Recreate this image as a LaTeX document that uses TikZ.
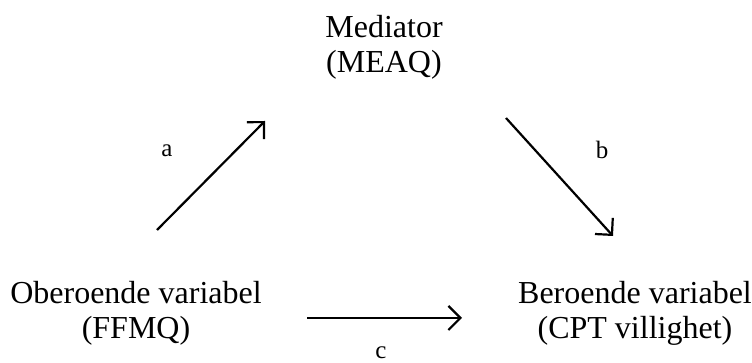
\documentclass[tikz,border=0pt]{standalone}
\usepackage{fontspec}
\setmainfont{Liberation Serif}
\usetikzlibrary{positioning,arrows.meta}

\tikzset{
  varbox/.style={align=center,font=\fontsize{16}{17.5}\selectfont,inner sep=0pt},
  pathlbl/.style={font=\fontsize{12.5}{14}\selectfont,inner sep=0pt},
}

\begin{document}
\begin{tikzpicture}[x=0.5pt,y=-0.5pt,>={Straight Barb[length=6pt,width=12pt]},line width=1.1pt]
\useasboundingbox (0,0) rectangle (752,363);
\node[varbox] (med) at (384,47) {Mediator\\(MEAQ)};
\node[varbox] (obe) at (136,313) {Oberoende variabel\\(FFMQ)};
\node[varbox] (ber) at (635,313) {Beroende variabel\\(CPT villighet)};
\coordinate (a1) at (157,230);
\coordinate (a2) at (265,121);
\coordinate (b1) at (506,118);
\coordinate (b2) at (613,236);
\coordinate (c1) at (307,318);
\coordinate (c2) at (462,318);
\draw[->] (a1) -- (a2);
\draw[->] (b1) -- (b2);
\draw[->] (c1) -- (c2);
\node[pathlbl] (la) at (167,151) {a};
\node[pathlbl] (lb) at (602,150) {b};
\node[pathlbl] (lc) at (381,353) {c};
\end{tikzpicture}
\end{document}
